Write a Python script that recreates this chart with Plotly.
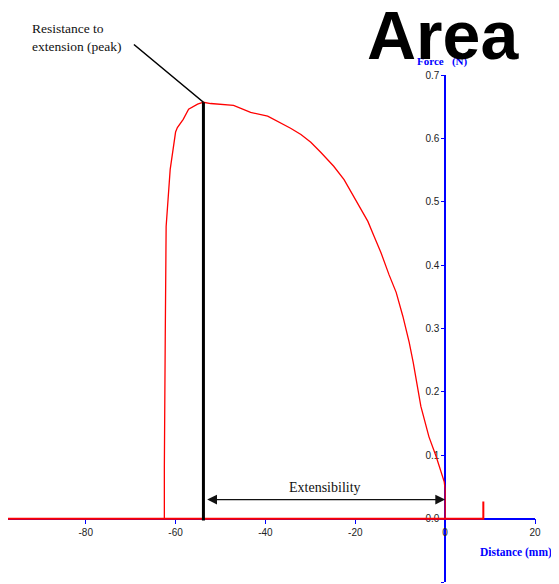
import plotly.graph_objects as go

# ---- data ----
curve_x = [-62.5, -62.5, -62.3, -62.1, -61.2, -60.0, -59.6, -58.3, -57.1, -55.1, -53.8,
           -52.2, -47.1, -43.3, -39.5, -37.3, -34.4, -32.1, -29.9, -27.7, -24.8, -22.5,
           -20.3, -18.8, -17.2, -15.8, -14.3, -12.5, -10.9, -9.4, -8.0, -7.1, -5.4,
           -3.6, -2.0, -0.2, 0.0, 0.0]
curve_y = [0.0, 0.081, 0.287, 0.461, 0.551, 0.610, 0.617, 0.630, 0.646, 0.654, 0.657,
           0.655, 0.652, 0.641, 0.635, 0.627, 0.616, 0.606, 0.594, 0.578, 0.556, 0.535,
           0.508, 0.491, 0.469, 0.445, 0.420, 0.385, 0.357, 0.319, 0.278, 0.246, 0.177,
           0.129, 0.098, 0.058, 0.046, 0.0]
base_x = [-97.3, -62.5, 0.0, 8.5, 8.5]
base_y = [0.0, 0.0, 0.0, 0.0, 0.027]

peak_x = -53.8
peak_y = 0.657
ext_start = -53.3
ext_end = 0.0
ext_level = 0.030

x_ticks = [-80, -60, -40, -20, 0, 20]
x_ticktext = ["-80", "-60", "-40", "-20", "0", "20"]
y_ticks = [-0.1, 0.0, 0.1, 0.2, 0.3, 0.4, 0.5, 0.6, 0.7]
y_ticktext = ["-0.1", "0.0", "0.1", "0.2", "0.3", "0.4", "0.5", "0.6", "0.7"]

x_range = [-97.3, 20.0]
y_range = [-0.1, 0.7]

# ---- figure ----
# the page body has an 8px margin, so the figure is drawn 8px in from the top-left
OFF = 8
W, H = 559 - OFF, 584 - OFF
ml, mr, mt, mb = 8 - OFF, 24, 75 - OFF, 2
pw = W - ml - mr
ph = H - mt - mb


def px2paper(px, py):
    # px, py are pixel positions in the reference picture
    fx = px - OFF
    fy = py - OFF
    return (fx - ml) / pw, (H - mb - fy) / ph


fig = go.Figure()
fig.add_trace(go.Scatter(x=base_x, y=base_y, mode="lines",
                         line=dict(color="#ff0000", width=2), hoverinfo="skip"))
fig.add_trace(go.Scatter(x=curve_x, y=curve_y, mode="lines",
                         line=dict(color="#ff0000", width=1.3), hoverinfo="skip"))

tickfont = dict(family="Liberation Sans Narrow, Liberation Sans, sans-serif",
                size=10, color="#222222")

xpos = (0 - y_range[0]) / (y_range[1] - y_range[0])
ypos = (0 - x_range[0]) / (x_range[1] - x_range[0])

fig.update_layout(
    width=W, height=H,
    margin=dict(l=ml, r=mr, t=mt, b=mb, autoexpand=False),
    paper_bgcolor="white", plot_bgcolor="white",
    showlegend=False,
    xaxis=dict(range=x_range, showgrid=False, zeroline=False, showline=True,
               linecolor="#0000ff", linewidth=1.5, ticks="outside", tickcolor="#0000ff",
               ticklen=5, tickwidth=1.2, tickvals=x_ticks, ticktext=x_ticktext,
               tickfont=tickfont, anchor="free", position=xpos, layer="below traces",
               automargin=False, fixedrange=True),
    yaxis=dict(range=y_range, showgrid=False, zeroline=False, showline=True,
               linecolor="#0000ff", linewidth=1.5, ticks="outside", tickcolor="#0000ff",
               ticklen=3, tickwidth=1.2, tickvals=y_ticks, ticktext=y_ticktext,
               tickfont=tickfont, anchor="free", position=ypos, layer="below traces",
               automargin=False, fixedrange=True),
)

# vertical peak marker
fig.add_shape(type="line", x0=peak_x, x1=peak_x, y0=-0.003, y1=peak_y,
              line=dict(color="black", width=3), xref="x", yref="y")

ann = []
# peak pointer line
ann.append(dict(x=peak_x, y=peak_y, xref="x", yref="y", text="", showarrow=True,
                arrowhead=0, arrowwidth=1.6, arrowcolor="black", ax=-71, ay=-59,
                standoff=0, startstandoff=0))
# extensibility double arrow
ann.append(dict(x=ext_end, y=ext_level, xref="x", yref="y", ax=ext_start, ay=ext_level,
                axref="x", ayref="y", text="", showarrow=True, arrowhead=2,
                arrowside="end+start", arrowsize=1.4, arrowwidth=1.4, arrowcolor="#111111",
                standoff=0, startstandoff=0))
ann.append(dict(x=(ext_start + ext_end) / 2, y=ext_level, xref="x", yref="y",
                text="Extensibility", showarrow=False, xanchor="center", yanchor="bottom",
                yshift=3,
                font=dict(family="Liberation Serif, serif", size=14, color="#111111")))
# resistance label
rx, ry = px2paper(30, 19)
ann.append(dict(x=rx, y=ry, xref="paper", yref="paper", xanchor="left", yanchor="top",
                align="left", text="Resistance to<br>extension (peak)", showarrow=False,
                font=dict(family="Liberation Serif, serif", size=13.5, color="#111111")))
# axis titles
fx, fy = px2paper(442, 61)
ann.append(dict(x=fx, y=fy, xref="paper", yref="paper", text="<b>Force   (N)</b>",
                xanchor="center", yanchor="middle",
                showarrow=False, font=dict(family="Liberation Serif, serif", size=11,
                                           color="#0000ff")))
dx, dy = px2paper(516, 552)
ann.append(dict(x=dx, y=dy, xref="paper", yref="paper", text="<b>Distance (mm)</b>",
                xanchor="center", yanchor="middle",
                showarrow=False, font=dict(family="Liberation Serif, serif", size=11.5,
                                           color="#0000ff")))
# big title
axp, ayp = px2paper(443, 35)
ann.append(dict(x=axp, y=ayp, xref="paper", yref="paper", text="<b>Area</b>",
                xanchor="center", yanchor="middle",
                showarrow=False, font=dict(family="Liberation Sans, Arial, sans-serif",
                                           size=68, color="black")))
fig.update_layout(annotations=ann)

fig.write_html("out.html")
